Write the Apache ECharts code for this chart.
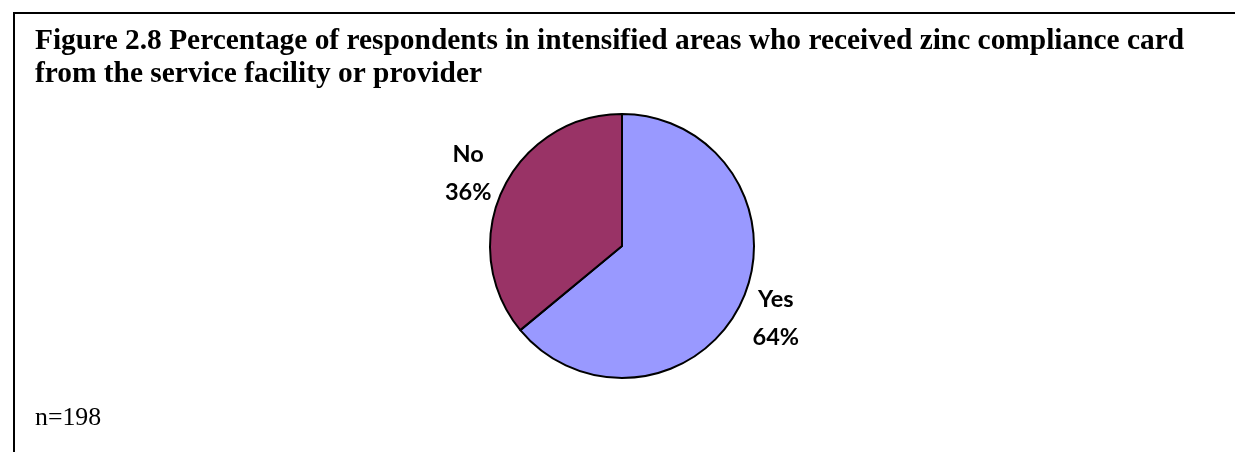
<!DOCTYPE html>
<html>
<head>
<meta charset="utf-8">
<script src="https://cdn.jsdelivr.net/npm/echarts@6/dist/echarts.min.js"></script>
<style>
html,body{margin:0;padding:0;background:#fff;}
#chart{width:1235px;height:452px;}
</style>
</head>
<body>
<div id="chart"></div>
<script>
const titleLines = [
  'Figure 2.8 Percentage of respondents in intensified areas who received zinc compliance card',
  'from the service facility or provider'
];
const noteText = 'n=198';
const categories = ['Yes', 'No'];
const values = [64, 36];
const colors = ['#9999FF', '#993366'];

const chart = echarts.init(document.getElementById('chart'), null, {renderer: 'canvas'});
const pieData = categories.map((c, i) => ({name: c, value: values[i], itemStyle: {color: colors[i]}}));
const center = [622, 246];

chart.setOption({
  backgroundColor: '#ffffff',
  animation: false,
  title: [
    {
      text: titleLines.join('\n'),
      left: 35, top: 25, padding: 0,
      textStyle: {fontFamily: "'Times New Roman','Liberation Serif',serif", fontWeight: 'bold', fontSize: 29.4, lineHeight: 33, color: '#000'}
    },
    {
      text: noteText,
      left: 35, top: 406, padding: 0,
      textStyle: {fontFamily: "'Times New Roman','Liberation Serif',serif", fontWeight: 'normal', fontSize: 25.8, lineHeight: 25, color: '#000'}
    }
  ],
  graphic: [
    {type: 'polyline', shape: {points: [[14, 460], [14, 13], [1240, 13]]}, style: {stroke: '#000', lineWidth: 2, fill: null}, silent: true}
  ],
  series: [
    {
      type: 'pie',
      center: center,
      radius: [0, 132],
      startAngle: 90,
      clockwise: true,
      silent: true,
      data: pieData,
      label: {show: false},
      labelLine: {show: false},
      itemStyle: {borderColor: '#000', borderWidth: 2}
    },
    {
      type: 'pie',
      center: center,
      radius: [148, 186],
      startAngle: 90,
      clockwise: true,
      silent: true,
      data: categories.map((c, i) => ({name: c, value: values[i]})),
      itemStyle: {color: 'rgba(0,0,0,0)', borderWidth: 0},
      label: {
        show: true,
        position: 'inside',
        formatter: p => p.name + '\n' + p.value + '%',
        fontFamily: "Lato,'Open Sans',sans-serif",
        fontWeight: 'bold',
        fontSize: 23.5,
        lineHeight: 38,
        color: '#000'
      },
      labelLine: {show: false}
    }
  ]
});
</script>
</body>
</html>
